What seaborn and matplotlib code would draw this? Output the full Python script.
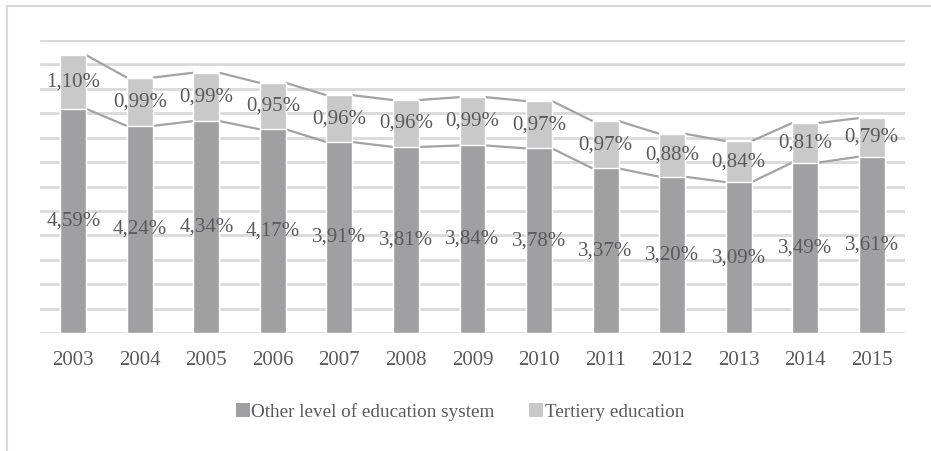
import matplotlib
matplotlib.use("Agg")
import matplotlib.pyplot as plt
from matplotlib.patches import Rectangle, Patch
import seaborn as sns
import pandas as pd

years = ["2003", "2004", "2005", "2006", "2007", "2008", "2009",
         "2010", "2011", "2012", "2013", "2014", "2015"]
other_level = [4.59, 4.24, 4.34, 4.17, 3.91, 3.81, 3.84, 3.78, 3.37, 3.20, 3.09, 3.49, 3.61]
tertiary = [1.10, 0.99, 0.99, 0.95, 0.96, 0.96, 0.99, 0.97, 0.97, 0.88, 0.84, 0.81, 0.79]
series_names = ["Other level of education system", "Tertiery education"]

DARK = "#a0a0a3"
LIGHT = "#c9c9c9"
TEXT = "#5a5a5a"
GRID = "#d9d9d9"
LINE = "#a3a3a3"
BAR_W = 0.39
FS = 15
LEG_FS = 13.8

sns.set_theme(style="white")
plt.rcParams["font.family"] = ["Liberation Serif", "DejaVu Serif"]

df = pd.DataFrame({"year": years, "other": other_level, "tertiary": tertiary})
df["total"] = df["other"] + df["tertiary"]

fig = plt.figure(figsize=(9.31, 4.51), dpi=100)
ax = fig.add_axes([40 / 931, 118 / 451, 865 / 931, 293 / 451])

# chart-area frame
fig.patches.append(Rectangle((7 / 931, -0.1), 1.2, (451 - 6) / 451 + 0.1,
                             transform=fig.transFigure, fill=False,
                             edgecolor=GRID, linewidth=1.5, zorder=0))

# horizontal gridlines
for g in [i * 0.5 for i in range(13)]:
    ax.axhline(g, color=GRID, linewidth=2, zorder=0)

# stacked bars: full total in light grey, lower part in dark grey on top
sns.barplot(data=df, x="year", y="total", color=LIGHT, width=BAR_W,
            saturation=1, ax=ax, zorder=2)
sns.barplot(data=df, x="year", y="other", color=DARK, width=BAR_W,
            saturation=1, ax=ax, zorder=3)

# series lines joining the segment tops of neighbouring bars
n = len(years)
for vals in (df["other"].values, df["total"].values):
    for i in range(n - 1):
        ax.plot([i + BAR_W / 2, i + 1 - BAR_W / 2], [vals[i], vals[i + 1]],
                color=LINE, linewidth=1.6, zorder=1, solid_capstyle="butt")

def fmt(v):
    return f"{v:.2f}%".replace(".", ",")

for i in range(n):
    ax.text(i, other_level[i] / 2, fmt(other_level[i]), ha="center", va="center",
            fontsize=FS, color=TEXT, zorder=5)
    ax.text(i, other_level[i] + tertiary[i] / 2, fmt(tertiary[i]), ha="center",
            va="center", fontsize=FS, color=TEXT, zorder=5)

ax.set_xlim(-0.5, n - 0.5)
ax.set_ylim(0, 6)
ax.set_yticks([])
ax.set_xlabel("")
ax.set_ylabel("")
ax.tick_params(axis="x", length=0, pad=13, labelsize=FS, labelcolor=TEXT)
for s in ax.spines.values():
    s.set_visible(False)

handles = [Patch(facecolor=DARK, edgecolor="none"),
           Patch(facecolor=LIGHT, edgecolor="none")]
fig.legend(handles, series_names, loc="center", bbox_to_anchor=(460 / 931, 1 - 412 / 451),
           ncol=2, frameon=False, fontsize=LEG_FS, labelcolor=TEXT,
           handlelength=0.73, handleheight=0.73, handletextpad=0.1,
           columnspacing=1.8)

fig.savefig("out.png", dpi=100)
